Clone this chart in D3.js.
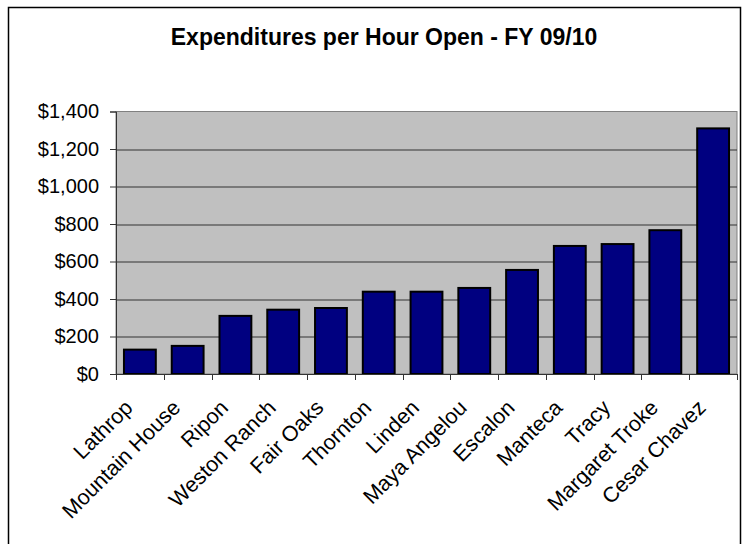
<!DOCTYPE html>
<html>
<head>
<meta charset="utf-8">
<script src="https://cdn.jsdelivr.net/npm/d3@7"></script>
<style>
  body { margin: 0; background: #fff; }
  svg { display: block; font-family: "Liberation Sans", Arial, sans-serif; }
</style>
</head>
<body>
<svg width="742" height="544"></svg>
<script>
const branches = ["Lathrop", "Mountain House", "Ripon", "Weston Ranch", "Fair Oaks", "Thornton",
  "Linden", "Maya Angelou", "Escalon", "Manteca", "Tracy", "Margaret Troke", "Cesar Chavez"];
const expenditures = [130, 150, 310, 343, 352, 439, 439, 459, 555, 683, 693, 767, 1310];
const yTicks = [0, 200, 400, 600, 800, 1000, 1200, 1400];
const title = "Expenditures per Hour Open - FY 09/10";

let svg = d3.select('svg');

// outer chart border
svg.append("rect")
  .attr("x", 8.5).attr("y", 7.5)
  .attr("width", 732).attr("height", 560)
  .attr("fill", "none")
  .attr("stroke", "#000")
  .attr("stroke-width", 1.5);

let padding = { top: 111.5, right: 5, bottom: 170, left: 116 };

const chartArea = {
  "width": 742 - padding.left - padding.right,
  "height": 544 - padding.top - padding.bottom
};

const yScale = d3.scaleLinear()
                  .domain([0, 1400])
                  .range([chartArea.height, 0]);

// excel style gap width of 50%
const xScale = d3.scaleBand()
                  .domain(branches)
                  .range([0, chartArea.width])
                  .paddingInner(1 / 3)
                  .paddingOuter(1 / 6);

let plot = svg.append("g").attr(
  'transform', 'translate(' + padding.left + ',' + padding.top + ')'
);

plot.append("rect")
  .attr("width", chartArea.width)
  .attr("height", chartArea.height)
  .attr("fill", "#c0c0c0")
  .attr("stroke", "#808080")
  .attr("stroke-width", 1);

// gridlines
plot.selectAll("line.grid").data(yTicks.slice(1, -1))
  .enter()
  .append("line")
  .classed("grid", true)
  .attr("x1", 0).attr("x2", chartArea.width)
  .attr("y1", d => Math.round(yScale(d)) + 0.5)
  .attr("y2", d => Math.round(yScale(d)) + 0.5)
  .attr("stroke", "#333")
  .attr("stroke-width", 1);

//bars
plot.selectAll("rect.bar").data(expenditures)
  .enter()
  .append("rect")
  .classed("bar", true)
  .attr("x", (d, i) => xScale(branches[i]))
  .attr("y", d => yScale(d))
  .attr("width", xScale.bandwidth())
  .attr("height", d => chartArea.height - yScale(d))
  .attr("fill", "#000080")
  .attr("stroke", "#000")
  .attr("stroke-width", 2);

// y axis
const yAxis = plot.append("g")
  .classed("yAxis", true)
  .call(d3.axisLeft(yScale)
    .tickValues(yTicks)
    .tickSize(6)
    .tickPadding(11)
    .tickFormat(d => "$" + d3.format(",")(d)));

yAxis.select(".domain").attr("stroke", "#333");
yAxis.selectAll(".tick line").attr("stroke", "#333");
yAxis.selectAll("text")
  .attr("font-size", 20)
  .attr("fill", "#000")
  .style("font-family", "Liberation Sans, Arial, sans-serif");

// x axis line and ticks on the category boundaries
const step = xScale.step();
const bounds = d3.range(branches.length + 1).map(i => i * step);

plot.append("line")
  .attr("x1", 0).attr("x2", chartArea.width)
  .attr("y1", chartArea.height + 0.5).attr("y2", chartArea.height + 0.5)
  .attr("stroke", "#333");

plot.selectAll("line.xtick").data(bounds)
  .enter()
  .append("line")
  .classed("xtick", true)
  .attr("x1", d => Math.round(d) + 0.5).attr("x2", d => Math.round(d) + 0.5)
  .attr("y1", chartArea.height).attr("y2", chartArea.height + 6)
  .attr("stroke", "#333");

plot.selectAll("text.xlabel").data(branches)
  .enter()
  .append("text")
  .classed("xlabel", true)
  .attr("transform", d =>
    'translate(' + (xScale(d) + xScale.bandwidth() / 2 - 6) + ',' + (chartArea.height + 35) + ') rotate(-45)')
  .attr("text-anchor", "end")
  .attr("font-size", 21.5)
  .attr("fill", "#000")
  .text(d => d);

// title
svg.append("text")
  .attr("x", 384)
  .attr("y", 45)
  .attr("text-anchor", "middle")
  .attr("font-size", 23)
  .attr("font-weight", "bold")
  .attr("fill", "#000")
  .text(title);
</script>
</body>
</html>
